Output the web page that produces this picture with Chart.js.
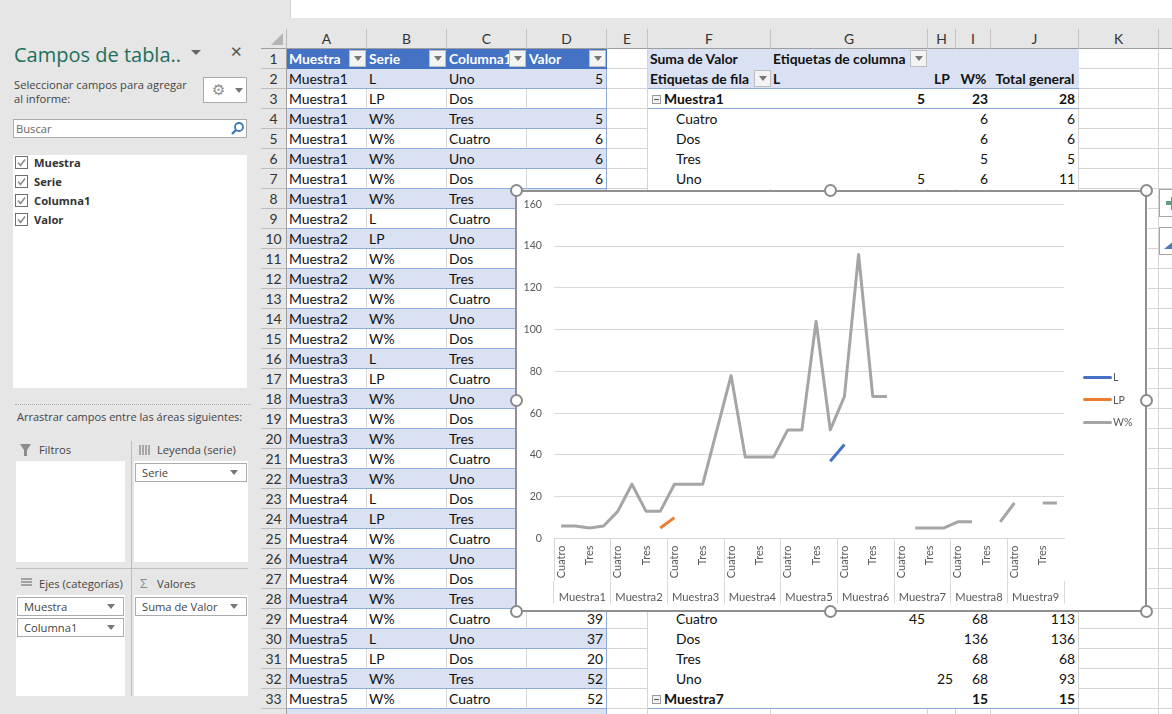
<!DOCTYPE html>
<html>
<head>
<meta charset="utf-8">
<style>
html, body { margin: 0; padding: 0; width: 1172px; height: 714px; overflow: hidden; background: #e6e6e6; }
#sheet, #pane { position: absolute; left: 0; top: 0; width: 1172px; height: 714px; overflow: hidden; }
.c { position: absolute; box-sizing: border-box; white-space: nowrap; overflow: hidden; font: 13.9px/20px Lato, sans-serif; color: #111; padding: 0 2px; }
.p { position: absolute; box-sizing: border-box; white-space: nowrap; font: 11.2px/16px "Open Sans", sans-serif; color: #444; }
.tri { position: absolute; width: 0; height: 0; border-left: 4px solid transparent; border-right: 4px solid transparent; border-top: 5px solid #777; }
.btn { position: absolute; box-sizing: border-box; width: 17px; height: 17px; background: #f3f3f3; border: 1px solid #bdbdbd; }
.h { position: absolute; box-sizing: border-box; width: 13px; height: 13px; border-radius: 50%; background: #fff; border: 2.5px solid #8a8a8a; }
#chartBox { position: absolute; left: 516px; top: 190px; width: 632px; height: 422px; background: #fff; }
#chartBorder { position: absolute; left: 515px; top: 190px; width: 632px; height: 422px; box-sizing: border-box; border: 2px solid #8f8f8f; }
.lg { position: absolute; left: 1083px; font: 10.6px/14px Lato, sans-serif; color: #595959; }
.lg i { position: absolute; left: 0; top: 5.5px; width: 29px; height: 3px; border-radius: 2px; }
.lg span { position: absolute; left: 30px; top: 0; }
</style>
</head>
<body>
<div id="sheet"></div>
<div id="pane"></div>
<div id="chartBox"><canvas id="myChart" width="632" height="422"></canvas></div>
<div id="chartBorder"></div>
<div id="legendBox"></div>
<script src="https://cdn.jsdelivr.net/npm/chart.js@4"></script>
<script>
// chart data
var muestras = ['Muestra1', 'Muestra2', 'Muestra3', 'Muestra4', 'Muestra5', 'Muestra6', 'Muestra7', 'Muestra8', 'Muestra9'];
var columnas = ['Cuatro', 'Dos', 'Tres', 'Uno'];
var serieNames = ['L', 'LP', 'W%'];
var serieColors = ['#4472c4', '#ed7d31', '#a5a5a5'];
var serieL = [null, null, null, 5, null, null, null, null, null, null, null, null,
              null, null, null, null, null, null, null, 37, 45, null, null, null,
              null, null, null, null, null, null, null, null, null, null, null, null];
var serieLP = [null, null, null, null, null, null, null, 5, 10, null, null, null,
               null, null, null, null, null, 20, null, null, null, null, null, 25,
               null, null, null, null, null, null, null, null, null, null, null, null];
var serieW = [6, 6, 5, 6, 13, 26, 13, 13, 26, 26, 26, 52,
              78, 39, 39, 39, 52, 52, 104, 52, 68, 136, 68, 68,
              null, 5, 5, 5, 8, 8, null, 8, 17, null, 17, 17];
var yTicksMax = 160;
var yTicksStep = 20;

// sheet contents, first table (rows 2 to 33)
var colMuestra = ['Muestra1', 'Muestra1', 'Muestra1', 'Muestra1', 'Muestra1', 'Muestra1', 'Muestra1', 'Muestra2', 'Muestra2', 'Muestra2', 'Muestra2', 'Muestra2', 'Muestra2', 'Muestra2', 'Muestra3', 'Muestra3', 'Muestra3', 'Muestra3', 'Muestra3', 'Muestra3', 'Muestra3', 'Muestra4', 'Muestra4', 'Muestra4', 'Muestra4', 'Muestra4', 'Muestra4', 'Muestra4', 'Muestra5', 'Muestra5', 'Muestra5', 'Muestra5'];
var colSerie = ['L', 'LP', 'W%', 'W%', 'W%', 'W%', 'W%', 'L', 'LP', 'W%', 'W%', 'W%', 'W%', 'W%', 'L', 'LP', 'W%', 'W%', 'W%', 'W%', 'W%', 'L', 'LP', 'W%', 'W%', 'W%', 'W%', 'W%', 'L', 'LP', 'W%', 'W%'];
var colColumna = ['Uno', 'Dos', 'Tres', 'Cuatro', 'Uno', 'Dos', 'Tres', 'Cuatro', 'Uno', 'Dos', 'Tres', 'Cuatro', 'Uno', 'Dos', 'Tres', 'Cuatro', 'Uno', 'Dos', 'Tres', 'Cuatro', 'Uno', 'Dos', 'Tres', 'Cuatro', 'Uno', 'Dos', 'Tres', 'Cuatro', 'Uno', 'Dos', 'Tres', 'Cuatro'];
var colValor = [5, '', 5, 6, 6, 6, '', '', '', '', '', '', '', '', '', '', '', '', '', '', '', '', '', '', '', '', '', 39, 37, 20, 52, 52];

// pivot table rows: row number, label, L, LP, W%, total
var pivotRows = [
    [3, 'Muestra1', 5, '', 23, 28, true],
    [4, 'Cuatro', '', '', 6, 6],
    [5, 'Dos', '', '', 6, 6],
    [6, 'Tres', '', '', 5, 5],
    [7, 'Uno', 5, '', 6, 11],
    [29, 'Cuatro', 45, '', 68, 113],
    [30, 'Dos', '', '', 136, 136],
    [31, 'Tres', '', '', 68, 68],
    [32, 'Uno', '', 25, 68, 93],
    [33, 'Muestra7', '', '', 15, 15, true]
];

var colLetters = ['A', 'B', 'C', 'D', 'E', 'F', 'G', 'H', 'I', 'J', 'K', ''];
var colEdges = [287, 367, 447, 527, 607, 648, 771, 928, 956, 991, 1079, 1159, 1240];
var fieldNames = ['Muestra', 'Serie', 'Columna1', 'Valor'];

var sheet = document.getElementById('sheet');
var pane = document.getElementById('pane');

function rowTop(n) { return 48.5 + (n - 1) * 20; }

function add(parent, cls, x, y, w, h, text, css) {
    var d = document.createElement('div');
    d.className = cls;
    d.style.left = x + 'px';
    d.style.top = y + 'px';
    if (w != null) d.style.width = w + 'px';
    if (h != null) d.style.height = h + 'px';
    if (text != null) d.textContent = text;
    if (css) d.style.cssText += css;
    parent.appendChild(d);
    return d;
}

function cell(col, row, text, css) {
    return add(sheet, 'c', colEdges[col], rowTop(row), colEdges[col + 1] - colEdges[col], 20, text, css);
}

// white strip on top (formula bar)
add(sheet, 'c', 290, 0, 882, 18, null, 'background:#fff;border-left:1px solid #d0d0d0;');

// column headers
add(sheet, 'c', 261, 29, 26, 20, null, 'background:#e6e6e6;border-right:1px solid #b8b8b8;border-bottom:1px solid #9e9e9e;');
add(sheet, 'c', 271, 33, 12, 12, null, 'background:#b4b4b4;clip-path:polygon(100% 0,100% 100%,0 100%);padding:0;');
colLetters.forEach(function (letter, i) {
    add(sheet, 'c', colEdges[i], 29, colEdges[i + 1] - colEdges[i], 20, letter,
        'background:#e6e6e6;text-align:center;color:#333;border-right:1px solid #c4c4c4;border-bottom:1px solid #9e9e9e;');
});

// row numbers and plain grid
for (var r = 1; r <= 34; r++) {
    add(sheet, 'c', 261, rowTop(r), 26, 20, String(r),
        'background:#e6e6e6;text-align:center;color:#333;border-right:1px solid #9e9e9e;border-bottom:1px solid #bdbdbd;');
    for (var k = 0; k < colLetters.length; k++) {
        cell(k, r, null, 'background:#fff;border-right:1px solid #d4d4d4;border-bottom:1px solid #d4d4d4;');
    }
}

// first table
['Muestra', 'Serie', 'Columna1', 'Valor'].forEach(function (name, i) {
    cell(i, 1, name, 'background:#4472c4;color:#fff;font-weight:700;');
    add(sheet, 'btn', colEdges[i + 1] - 18, 50, null, null, null);
    add(sheet, 'tri', colEdges[i + 1] - 13.5, 56, null, null, null);
});
for (var i = 0; i < colMuestra.length; i++) {
    var row = i + 2;
    var band = row % 2 === 0;
    var base = 'border-bottom:1px solid #8ea9db;' + (band ? 'background:#d9e1f2;' : 'background:#fff;border-right:1px solid #d4d4d4;');
    cell(0, row, colMuestra[i], base);
    cell(1, row, colSerie[i], base);
    cell(2, row, colColumna[i], base);
    cell(3, row, colValor[i], base + 'text-align:right;padding-right:3px;border-right:1px solid #8ea9db;');
}
cell(0, 34, null, 'background:#d9e1f2;');
cell(1, 34, null, 'background:#d9e1f2;');
cell(2, 34, null, 'background:#d9e1f2;');
cell(3, 34, null, 'background:#d9e1f2;border-right:1px solid #8ea9db;');

// pivot table
for (var q = 5; q <= 9; q++) {
    cell(q, 1, null, 'background:#d9e1f2;');
    cell(q, 2, null, 'background:#d9e1f2;border-bottom:1px solid #8ea9db;');
}
cell(5, 1, 'Suma de Valor', 'background:none;font-weight:700;');
cell(6, 1, 'Etiquetas de columna', 'background:none;font-weight:700;');
cell(5, 2, 'Etiquetas de fila', 'background:none;font-weight:700;');
cell(6, 2, 'L', 'background:none;font-weight:700;');
cell(7, 2, 'LP', 'background:none;font-weight:700;text-align:center;');
cell(8, 2, 'W%', 'background:none;font-weight:700;text-align:center;');
cell(9, 2, 'Total general', 'background:none;font-weight:700;text-align:center;padding:0;');
add(sheet, 'btn', 910, 50, null, null, null);
add(sheet, 'tri', 914.5, 56, null, null, null);
add(sheet, 'btn', 754, 70, null, null, null);
add(sheet, 'tri', 758.5, 76, null, null, null);
pivotRows.forEach(function (p) {
    var bold = p[6];
    var rowCss = 'background:#fff;' + (bold ? 'font-weight:700;border-bottom:1px solid #8ea9db;' : '');
    var num = rowCss + 'text-align:right;padding-right:3px;';
    cell(5, p[0], p[1], rowCss + (bold ? 'padding-left:16px;' : 'padding-left:28px;'));
    cell(6, p[0], p[2], num);
    cell(7, p[0], p[3], num);
    cell(8, p[0], p[4], num);
    cell(9, p[0], p[5], num + 'border-right:1px solid #d4d4d4;');
    if (bold) {
        add(sheet, 'c', 652, rowTop(p[0]) + 6, 9, 9, null, 'background:#eef1f6;border:1px solid #9a9a9a;padding:0;');
        add(sheet, 'c', 654, rowTop(p[0]) + 10, 5, 1, null, 'background:#555;padding:0;');
    }
});

// chart side buttons
add(sheet, 'c', 1159, 189, 20, 28, null, 'background:#fff;border:1px solid #a6a6a6;z-index:2;padding:0;');
add(sheet, 'c', 1166, 201, 8, 4, null, 'background:#5f9e83;z-index:3;padding:0;');
add(sheet, 'c', 1171, 197, 4, 13, null, 'background:#5f9e83;z-index:3;padding:0;');
add(sheet, 'c', 1159, 227, 20, 28, null, 'background:#fff;border:1px solid #a6a6a6;z-index:2;padding:0;');
add(sheet, 'c', 1164, 241, 10, 8, null, 'background:#4a7db8;clip-path:polygon(0 100%,100% 0,100% 100%);z-index:3;padding:0;');

// field pane
add(pane, 'p', 14, 40, null, null, 'Campos de tabla..', 'font-size:20px;line-height:30px;color:#1f6f5c;');
add(pane, 'tri', 191, 50, null, null, null, 'border-left-width:5px;border-right-width:5px;border-top-width:5px;border-top-color:#666;');
add(pane, 'p', 230, 41, null, null, '\u2715', 'font-size:15px;line-height:22px;color:#555;font-weight:700;font-family:DejaVu Sans;');
add(pane, 'p', 14, 77, null, null, 'Seleccionar campos para agregar');
add(pane, 'p', 14, 91, null, null, 'al informe:');
add(pane, 'p', 203, 77, 44, 26, null, 'background:#fff;border:1px solid #ababab;');
add(pane, 'p', 212, 80, null, null, '\u2699', 'font:15px/20px "DejaVu Sans";color:#8c8c8c;');
add(pane, 'tri', 235, 88, null, null, null);
add(pane, 'p', 13, 119, 234, 19, 'Buscar', 'background:#fff;border:1px solid #ababab;padding-left:2px;line-height:17px;color:#666;');
pane.insertAdjacentHTML('beforeend', '<svg style="position:absolute;left:230px;top:121px" width="15" height="15" viewBox="0 0 15 15"><circle cx="9" cy="6" r="4" fill="none" stroke="#3d7ab5" stroke-width="1.8"/><path d="M6 9 L2 13" stroke="#3d7ab5" stroke-width="2.4"/></svg>');
add(pane, 'p', 13, 155, 234, 233, null, 'background:#fff;');
fieldNames.forEach(function (name, i) {
    var y = 156 + i * 19;
    pane.insertAdjacentHTML('beforeend', '<svg style="position:absolute;left:15px;top:' + y + 'px" width="13" height="13" viewBox="0 0 13 13"><rect x="0.5" y="0.5" width="12" height="12" fill="#fff" stroke="#6e6e6e"/><path d="M3 6.5 L5.5 9.5 L10 3.5" fill="none" stroke="#8a8a8a" stroke-width="1.5"/></svg>');
    add(pane, 'p', 34, y - 1, null, null, name, 'font-weight:700;color:#333;');
});
add(pane, 'p', 15, 404, 236, 0, null, 'border-top:1px dotted #aaa;');
add(pane, 'p', 17, 409, null, null, 'Arrastrar campos entre las \u00e1reas siguientes:', 'font-size:11px;');

// drop areas
add(pane, 'p', 16, 461, 109, 101, null, 'background:#fff;');
add(pane, 'p', 134, 461, 114, 101, null, 'background:#fff;');
add(pane, 'p', 16, 595, 109, 101, null, 'background:#fff;');
add(pane, 'p', 134, 595, 114, 101, null, 'background:#fff;');
add(pane, 'p', 16, 568, 232, 0, null, 'border-top:1px solid #bdbdbd;');
add(pane, 'p', 131, 441, 0, 255, null, 'border-left:1px solid #bdbdbd;');
add(pane, 'p', 39, 442, null, null, 'Filtros');
add(pane, 'p', 157, 442, null, null, 'Leyenda (serie)');
add(pane, 'p', 39, 576, null, null, 'Ejes (categor\u00edas)');
add(pane, 'p', 157, 576, null, null, 'Valores');
add(pane, 'p', 140, 574, null, null, '\u03a3', 'color:#8c8c8c;font-size:13px;line-height:18px;');
pane.insertAdjacentHTML('beforeend', '<svg style="position:absolute;left:19px;top:443px" width="14" height="14" viewBox="0 0 14 14"><path d="M1 1 H12 L8 7 V13 H5 V7 Z" fill="#8c8c8c"/></svg>' +
    '<svg style="position:absolute;left:139px;top:444px" width="11" height="12" viewBox="0 0 11 12"><path d="M1 1V11M4 1V11M7 1V11M10 1V11" stroke="#8c8c8c" stroke-width="1.4"/></svg>' +
    '<svg style="position:absolute;left:21px;top:578px" width="11" height="10" viewBox="0 0 11 10"><path d="M0 1H11M0 4H11M0 7H11" stroke="#8c8c8c" stroke-width="1.4"/></svg>');
function pill(x, y, w, text) {
    add(pane, 'p', x, y, w, 19, text, 'background:#fff;border:1px solid #ababab;padding-left:6px;line-height:17px;');
    add(pane, 'tri', x + w - 17, y + 7, null, null, null);
}
pill(135, 463, 112, 'Serie');
pill(17, 597, 107, 'Muestra');
pill(17, 618, 107, 'Columna1');
pill(135, 597, 112, 'Suma de Valor');

// selection handles of the chart
[[516, 190], [830, 190], [1146, 190], [516, 400], [1146, 400], [516, 611], [830, 611], [1146, 611]].forEach(function (h) {
    var d = add(document.body, 'h', h[0] - 6.5, h[1] - 6, null, null, null);
    d.style.zIndex = 5;
});

// the chart
var categories = [];
muestras.forEach(function () {
    columnas.forEach(function (c) { categories.push(c); });
});
var seriesValues = [serieL, serieLP, serieW];

var ctx = document.getElementById('myChart').getContext('2d');
var myChart = new Chart(ctx, {
    type: 'line',
    data: {
        labels: categories,
        datasets: serieNames.map(function (name, i) {
            return {
                label: name,
                data: seriesValues[i],
                borderColor: serieColors[i],
                backgroundColor: serieColors[i],
                borderWidth: 3,
                borderCapStyle: 'butt',
                borderJoinStyle: 'round',
                pointRadius: 0,
                tension: 0,
                spanGaps: false
            };
        })
    },
    options: {
        responsive: false,
        animation: false,
        layout: { autoPadding: false, padding: { left: 0, right: 84, top: 14.3, bottom: 8.5 } },
        plugins: { legend: { display: false }, tooltip: { enabled: false } },
        scales: {
            y: {
                min: 0,
                max: yTicksMax,
                border: { display: false },
                // a larger tick padding pushes the plot top down, so the gap comes from invisible ticks
                grid: { color: '#d9d9d9', tickLength: 9, tickColor: 'transparent' },
                ticks: { stepSize: yTicksStep, padding: 3, color: '#595959', font: { family: 'Lato', size: 10.6 } },
                afterFit: function (scale) { scale.width = 38; }
            },
            x: {
                offset: true,
                weight: 0,
                border: { color: '#d9d9d9' },
                grid: {
                    offset: true,
                    drawOnChartArea: false,
                    tickLength: 42,
                    color: function (c) { return c.index % 4 === 0 ? '#d9d9d9' : 'transparent'; }
                },
                ticks: {
                    autoSkip: false,
                    minRotation: 90,
                    maxRotation: 90,
                    padding: -35,
                    color: '#595959',
                    font: { family: 'Lato', size: 11 },
                    callback: function (value, index) { return index % 2 === 0 ? this.getLabelForValue(value) : ''; }
                },
                afterFit: function (scale) { scale.height = 42; }
            },
            xGroup: {
                type: 'category',
                axis: 'x',
                position: 'bottom',
                weight: 1,
                offset: true,
                labels: muestras,
                border: { display: false },
                grid: { offset: true, drawOnChartArea: false, tickLength: 23, color: '#d9d9d9' },
                ticks: {
                    autoSkip: false,
                    maxRotation: 0,
                    padding: -13,
                    color: '#595959',
                    font: { family: 'Lato', size: 11.2 }
                },
                afterFit: function (scale) { scale.height = 23; }
            }
        }
    }
});

// legend next to the plot, built from the chart's own datasets
var legendBox = document.getElementById('legendBox');
myChart.options.plugins.legend.labels.generateLabels(myChart).forEach(function (item, i) {
    var row = add(legendBox, 'lg', 1083, 370 + i * 22.5, 60, 14, null);
    var swatch = document.createElement('i');
    swatch.style.background = item.strokeStyle;
    var text = document.createElement('span');
    text.textContent = item.text;
    row.appendChild(swatch);
    row.appendChild(text);
});
</script>
</body>
</html>
